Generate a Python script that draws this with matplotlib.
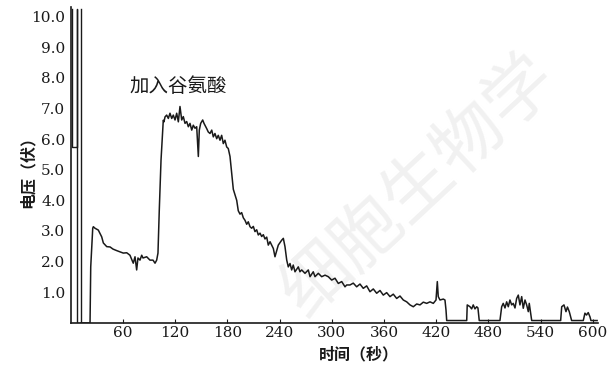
import matplotlib
matplotlib.use('Agg')
import matplotlib.pyplot as plt

# pen-recorder trace: membrane voltage after glutamate is added
# calibration strokes at the start of the record
cal_t = [1.7, 1.7, 7.1, 7.1, 7.1, 11.7, 11.7]
cal_v = [10.25, 5.75, 5.75, 10.25, 0.0, 0.0, 10.25]

# main trace (time in s, voltage in V)
trace_t = [11.7, 22.1, 22.9, 25.2, 25.9, 27.8, 31.6, 35.5, 37.4, 41.3, 45.1,
           48.5, 52.8, 56.6, 60.3, 64.3, 68.0, 71.8, 73.8, 75.7, 77.2, 79.5,
           81.5, 83.0, 87.2, 91.0, 94.5, 96.8, 98.7, 100.2, 101.7, 103.7,
           106.3, 107.1, 108.3, 110.2, 112.1, 114.0, 116.0, 117.8, 119.8,
           121.7, 123.6, 125.5, 127.5, 129.3, 131.3, 133.2, 135.1, 137.0,
           139.0, 140.8, 142.8, 144.7, 146.6, 147.7, 149.3, 151.6, 153.1,
           156.2, 158.0, 160.0, 162.0, 163.8, 165.7, 167.7, 169.5, 171.5,
           173.4, 175.3, 177.2, 179.2, 181.0, 183.0, 184.9, 186.8, 190.7,
           192.5, 194.5, 196.4, 198.3, 200.2, 202.2, 204.0, 206.0, 207.9,
           209.8, 211.7, 213.7, 215.5, 217.5, 219.4, 221.3, 223.2, 225.2,
           227.0, 229.0, 232.8, 234.7, 238.5, 242.4, 244.3, 246.2, 248.2,
           250.0, 252.0, 253.9, 255.7, 257.7, 261.5, 263.4, 265.4, 269.2,
           273.0, 275.0, 278.7, 280.7, 284.5, 288.4, 292.2, 296.0, 299.9,
           303.7, 307.5, 311.4, 315.2, 317.1, 320.9, 324.7, 328.6, 332.4,
           336.2, 340.1, 343.9, 347.7, 351.6, 355.4, 359.2, 363.1, 366.9,
           370.7, 374.6, 378.4, 382.2, 386.1, 389.9, 393.7, 397.6, 401.4,
           405.2, 409.1, 412.9, 416.7, 419.8, 421.3, 422.4, 424.4, 428.2,
           430.1, 431.3, 432.1,
           455.1, 455.7, 458.9, 460.8, 462.6, 464.6, 466.6, 468.0, 469.5,
           493.3, 495.3, 497.1, 499.1, 501.0, 502.9, 504.8, 506.8, 508.6,
           510.6, 512.5, 514.4, 516.3, 518.3, 520.1, 522.1, 524.0, 525.9,
           527.0, 528.6, 529.8,
           563.1, 564.3, 566.9, 569.2, 570.9, 573.0, 574.6, 575.7,
           589.1, 591.0, 592.8, 594.8, 596.8, 597.9, 605.0]
trace_v = [0.0, 0.0, 1.83, 3.09, 3.14, 3.09, 3.03, 2.81, 2.61, 2.49, 2.48,
           2.41, 2.36, 2.32, 2.28, 2.29, 2.21, 1.95, 2.16, 1.73, 2.12, 2.05,
           2.21, 2.12, 2.16, 2.05, 2.05, 1.95, 2.05, 2.28, 3.68, 5.31,
           6.61, 6.56, 6.72, 6.78, 6.67, 6.84, 6.67, 6.78, 6.62,
           6.84, 6.56, 7.06, 6.62, 6.73, 6.51, 6.57, 6.40, 6.51,
           6.29, 6.45, 6.35, 6.40, 5.43, 6.29, 6.51, 6.62, 6.51,
           6.34, 6.23, 6.18, 6.29, 6.07, 6.18, 6.01, 6.12, 5.96,
           6.12, 5.85, 5.96, 5.74, 5.69, 5.43, 4.91, 4.36, 4.00,
           3.66, 3.55, 3.60, 3.43, 3.35, 3.22, 3.30, 3.14, 3.09,
           3.15, 2.98, 3.04, 2.87, 2.93, 2.82, 2.88, 2.74, 2.80,
           2.54, 2.65, 2.43, 2.16, 2.54, 2.70, 2.76, 2.49, 2.05,
           1.83, 1.94, 1.73, 1.89, 1.67, 1.83, 1.67, 1.73, 1.62,
           1.73, 1.51, 1.67, 1.51, 1.62, 1.51, 1.56, 1.51, 1.40,
           1.46, 1.29, 1.35, 1.18, 1.24, 1.24, 1.30, 1.18, 1.27,
           1.13, 1.21, 1.02, 1.11, 0.97, 1.06, 0.91, 0.99, 0.86,
           0.94, 0.80, 0.88, 0.75, 0.69, 0.59, 0.53, 0.62, 0.59,
           0.68, 0.64, 0.69, 0.64, 0.75, 1.35, 0.86, 0.75, 0.78,
           0.75, 0.42, 0.08,
           0.08, 0.59, 0.53, 0.46, 0.59, 0.46, 0.53, 0.49, 0.08,
           0.08, 0.53, 0.64, 0.49, 0.69, 0.53, 0.75, 0.59, 0.64,
           0.49, 0.80, 0.91, 0.59, 0.86, 0.48, 0.75, 0.59, 0.37,
           0.64, 0.32, 0.08,
           0.08, 0.53, 0.59, 0.37, 0.52, 0.37, 0.20, 0.08,
           0.08, 0.32, 0.26, 0.34, 0.20, 0.08, 0.08]

x_ticks = [60, 120, 180, 240, 300, 360, 420, 480, 540, 600]
y_ticks = [1, 2, 3, 4, 5, 6, 7, 8, 9, 10]
y_labels = ['1.0', '2.0', '3.0', '4.0', '5.0', '6.0', '7.0', '8.0', '9.0', '10.0']

CJK = ['Noto Sans CJK SC', 'DejaVu Sans']
INK = '#1a1a1a'

fig = plt.figure(figsize=(6.12, 3.66), dpi=100)

ax = fig.add_axes([0.1157, 0.1175, 0.8614, 0.863])
ax.patch.set_alpha(0)
ax.set_zorder(2)

# faint diagonal watermark of the scanned page, kept behind the axes
fig.text(0.686, 0.49, '细胞生物学', family=CJK, fontsize=50, color='#f1f1f1',
         rotation=43, ha='center', va='center', zorder=0)

ax.plot(cal_t, cal_v, color=INK, lw=1.0)
ax.plot(trace_t, trace_v, color=INK, lw=1.1)

ax.set_xlim(0, 606)
ax.set_ylim(0, 10.3)
for s in ('top', 'right'):
    ax.spines[s].set_visible(False)
for s in ('left', 'bottom'):
    ax.spines[s].set_linewidth(1.2)
    ax.spines[s].set_color(INK)

ax.set_xticks(x_ticks)
ax.set_xticklabels([str(v) for v in x_ticks], family='DejaVu Serif',
                   fontsize=11, color=INK)
ax.set_yticks(y_ticks)
ax.set_yticklabels(y_labels, family='DejaVu Serif', fontsize=11, color=INK)
ax.tick_params(axis='x', direction='in', length=3, pad=2, color=INK)
ax.tick_params(axis='y', length=0, pad=4)

ax.text(0.547, -0.075, '时间（秒）', transform=ax.transAxes, family=CJK,
        fontsize=11.5, fontweight='bold', color=INK, ha='center', va='top')
ax.text(-0.0825, 0.49, '电压（伏）', transform=ax.transAxes, family=CJK,
        fontsize=11.5, fontweight='bold', color=INK, ha='center', va='center',
        rotation=90)
ax.text(123, 7.7, '加入谷氨酸', family=CJK, fontsize=14, color=INK,
        ha='center', va='center')

fig.savefig('out.png', dpi=100, facecolor='white')
